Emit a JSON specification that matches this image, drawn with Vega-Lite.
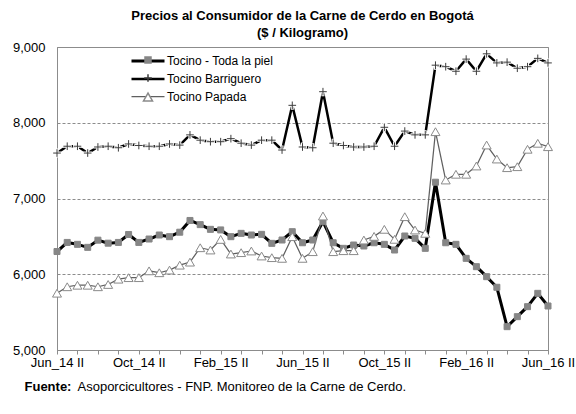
{
"$schema": "https://vega.github.io/schema/vega-lite/v6.json",
"width": 491, "height": 303,
"autosize": {"type": "none"},
"padding": {"left": 57, "top": 47, "right": 28, "bottom": 64},
"background": "white",
"title": {"text": ["Precios al Consumidor de la Carne de Cerdo en Bogotá", "($ / Kilogramo)"], "fontSize": 13, "fontWeight": "bold", "color": "black", "anchor": "middle", "offset": -12, "lineHeight": 17, "baseline": "bottom"},
"data": {"values": [
{"p":"Jun_14 II","s":"Tocino - Toda la piel","v":6300},{"p":"Jul_14 I","s":"Tocino - Toda la piel","v":6420},{"p":"Jul_14 II","s":"Tocino - Toda la piel","v":6395},{"p":"Ago_14 I","s":"Tocino - Toda la piel","v":6355},{"p":"Ago_14 II","s":"Tocino - Toda la piel","v":6450},{"p":"Sep_14 I","s":"Tocino - Toda la piel","v":6410},{"p":"Sep_14 II","s":"Tocino - Toda la piel","v":6420},{"p":"Oct_14 I","s":"Tocino - Toda la piel","v":6525},{"p":"Oct_14 II","s":"Tocino - Toda la piel","v":6420},{"p":"Nov_14 I","s":"Tocino - Toda la piel","v":6465},{"p":"Nov_14 II","s":"Tocino - Toda la piel","v":6518},{"p":"Dic_14 I","s":"Tocino - Toda la piel","v":6496},{"p":"Dic_14 II","s":"Tocino - Toda la piel","v":6555},{"p":"Ene_15 I","s":"Tocino - Toda la piel","v":6710},{"p":"Ene_15 II","s":"Tocino - Toda la piel","v":6655},{"p":"Feb_15 I","s":"Tocino - Toda la piel","v":6593},{"p":"Feb_15 II","s":"Tocino - Toda la piel","v":6585},{"p":"Mar_15 I","s":"Tocino - Toda la piel","v":6496},{"p":"Mar_15 II","s":"Tocino - Toda la piel","v":6540},{"p":"Abr_15 I","s":"Tocino - Toda la piel","v":6518},{"p":"Abr_15 II","s":"Tocino - Toda la piel","v":6527},{"p":"May_15 I","s":"Tocino - Toda la piel","v":6408},{"p":"May_15 II","s":"Tocino - Toda la piel","v":6452},{"p":"Jun_15 I","s":"Tocino - Toda la piel","v":6562},{"p":"Jun_15 II","s":"Tocino - Toda la piel","v":6416},{"p":"Jul_15 I","s":"Tocino - Toda la piel","v":6452},{"p":"Jul_15 II","s":"Tocino - Toda la piel","v":6694},{"p":"Ago_15 I","s":"Tocino - Toda la piel","v":6416},{"p":"Ago_15 II","s":"Tocino - Toda la piel","v":6342},{"p":"Sep_15 I","s":"Tocino - Toda la piel","v":6386},{"p":"Sep_15 II","s":"Tocino - Toda la piel","v":6373},{"p":"Oct_15 I","s":"Tocino - Toda la piel","v":6416},{"p":"Oct_15 II","s":"Tocino - Toda la piel","v":6395},{"p":"Nov_15 I","s":"Tocino - Toda la piel","v":6320},{"p":"Nov_15 II","s":"Tocino - Toda la piel","v":6505},{"p":"Dic_15 I","s":"Tocino - Toda la piel","v":6474},{"p":"Dic_15 II","s":"Tocino - Toda la piel","v":6342},{"p":"Ene_16 I","s":"Tocino - Toda la piel","v":7215},{"p":"Ene_16 II","s":"Tocino - Toda la piel","v":6416},{"p":"Feb_16 I","s":"Tocino - Toda la piel","v":6395},{"p":"Feb_16 II","s":"Tocino - Toda la piel","v":6210},{"p":"Mar_16 I","s":"Tocino - Toda la piel","v":6100},{"p":"Mar_16 II","s":"Tocino - Toda la piel","v":5968},{"p":"Abr_16 I","s":"Tocino - Toda la piel","v":5828},{"p":"Abr_16 II","s":"Tocino - Toda la piel","v":5308},{"p":"May_16 I","s":"Tocino - Toda la piel","v":5440},{"p":"May_16 II","s":"Tocino - Toda la piel","v":5572},{"p":"Jun_16 I","s":"Tocino - Toda la piel","v":5748},{"p":"Jun_16 II","s":"Tocino - Toda la piel","v":5581},
{"p":"Jun_14 II","s":"Tocino Barriguero","v":7600},{"p":"Jul_14 I","s":"Tocino Barriguero","v":7690},{"p":"Jul_14 II","s":"Tocino Barriguero","v":7690},{"p":"Ago_14 I","s":"Tocino Barriguero","v":7600},{"p":"Ago_14 II","s":"Tocino Barriguero","v":7680},{"p":"Sep_14 I","s":"Tocino Barriguero","v":7690},{"p":"Sep_14 II","s":"Tocino Barriguero","v":7670},{"p":"Oct_14 I","s":"Tocino Barriguero","v":7720},{"p":"Oct_14 II","s":"Tocino Barriguero","v":7700},{"p":"Nov_14 I","s":"Tocino Barriguero","v":7690},{"p":"Nov_14 II","s":"Tocino Barriguero","v":7690},{"p":"Dic_14 I","s":"Tocino Barriguero","v":7720},{"p":"Dic_14 II","s":"Tocino Barriguero","v":7705},{"p":"Ene_15 I","s":"Tocino Barriguero","v":7840},{"p":"Ene_15 II","s":"Tocino Barriguero","v":7770},{"p":"Feb_15 I","s":"Tocino Barriguero","v":7750},{"p":"Feb_15 II","s":"Tocino Barriguero","v":7750},{"p":"Mar_15 I","s":"Tocino Barriguero","v":7790},{"p":"Mar_15 II","s":"Tocino Barriguero","v":7730},{"p":"Abr_15 I","s":"Tocino Barriguero","v":7705},{"p":"Abr_15 II","s":"Tocino Barriguero","v":7770},{"p":"May_15 I","s":"Tocino Barriguero","v":7770},{"p":"May_15 II","s":"Tocino Barriguero","v":7640},{"p":"Jun_15 I","s":"Tocino Barriguero","v":8230},{"p":"Jun_15 II","s":"Tocino Barriguero","v":7680},{"p":"Jul_15 I","s":"Tocino Barriguero","v":7670},{"p":"Jul_15 II","s":"Tocino Barriguero","v":8410},{"p":"Ago_15 I","s":"Tocino Barriguero","v":7730},{"p":"Ago_15 II","s":"Tocino Barriguero","v":7700},{"p":"Sep_15 I","s":"Tocino Barriguero","v":7680},{"p":"Sep_15 II","s":"Tocino Barriguero","v":7680},{"p":"Oct_15 I","s":"Tocino Barriguero","v":7690},{"p":"Oct_15 II","s":"Tocino Barriguero","v":7940},{"p":"Nov_15 I","s":"Tocino Barriguero","v":7690},{"p":"Nov_15 II","s":"Tocino Barriguero","v":7890},{"p":"Dic_15 I","s":"Tocino Barriguero","v":7840},{"p":"Dic_15 II","s":"Tocino Barriguero","v":7840},{"p":"Ene_16 I","s":"Tocino Barriguero","v":8760},{"p":"Ene_16 II","s":"Tocino Barriguero","v":8740},{"p":"Feb_16 I","s":"Tocino Barriguero","v":8680},{"p":"Feb_16 II","s":"Tocino Barriguero","v":8840},{"p":"Mar_16 I","s":"Tocino Barriguero","v":8680},{"p":"Mar_16 II","s":"Tocino Barriguero","v":8910},{"p":"Abr_16 I","s":"Tocino Barriguero","v":8790},{"p":"Abr_16 II","s":"Tocino Barriguero","v":8800},{"p":"May_16 I","s":"Tocino Barriguero","v":8720},{"p":"May_16 II","s":"Tocino Barriguero","v":8740},{"p":"Jun_16 I","s":"Tocino Barriguero","v":8850},{"p":"Jun_16 II","s":"Tocino Barriguero","v":8790},
{"p":"Jun_14 II","s":"Tocino Papada","v":5750},{"p":"Jul_14 I","s":"Tocino Papada","v":5835},{"p":"Jul_14 II","s":"Tocino Papada","v":5855},{"p":"Ago_14 I","s":"Tocino Papada","v":5855},{"p":"Ago_14 II","s":"Tocino Papada","v":5835},{"p":"Sep_14 I","s":"Tocino Papada","v":5865},{"p":"Sep_14 II","s":"Tocino Papada","v":5935},{"p":"Oct_14 I","s":"Tocino Papada","v":5955},{"p":"Oct_14 II","s":"Tocino Papada","v":5955},{"p":"Nov_14 I","s":"Tocino Papada","v":6045},{"p":"Nov_14 II","s":"Tocino Papada","v":6020},{"p":"Dic_14 I","s":"Tocino Papada","v":6055},{"p":"Dic_14 II","s":"Tocino Papada","v":6120},{"p":"Ene_15 I","s":"Tocino Papada","v":6160},{"p":"Ene_15 II","s":"Tocino Papada","v":6350},{"p":"Feb_15 I","s":"Tocino Papada","v":6320},{"p":"Feb_15 II","s":"Tocino Papada","v":6460},{"p":"Mar_15 I","s":"Tocino Papada","v":6267},{"p":"Mar_15 II","s":"Tocino Papada","v":6285},{"p":"Abr_15 I","s":"Tocino Papada","v":6307},{"p":"Abr_15 II","s":"Tocino Papada","v":6241},{"p":"May_15 I","s":"Tocino Papada","v":6219},{"p":"May_15 II","s":"Tocino Papada","v":6210},{"p":"Jun_15 I","s":"Tocino Papada","v":6496},{"p":"Jun_15 II","s":"Tocino Papada","v":6210},{"p":"Jul_15 I","s":"Tocino Papada","v":6298},{"p":"Jul_15 II","s":"Tocino Papada","v":6769},{"p":"Ago_15 I","s":"Tocino Papada","v":6298},{"p":"Ago_15 II","s":"Tocino Papada","v":6311},{"p":"Sep_15 I","s":"Tocino Papada","v":6311},{"p":"Sep_15 II","s":"Tocino Papada","v":6452},{"p":"Oct_15 I","s":"Tocino Papada","v":6500},{"p":"Oct_15 II","s":"Tocino Papada","v":6593},{"p":"Nov_15 I","s":"Tocino Papada","v":6461},{"p":"Nov_15 II","s":"Tocino Papada","v":6760},{"p":"Dic_15 I","s":"Tocino Papada","v":6584},{"p":"Dic_15 II","s":"Tocino Papada","v":6540},{"p":"Ene_16 I","s":"Tocino Papada","v":7882},{"p":"Ene_16 II","s":"Tocino Papada","v":7244},{"p":"Feb_16 I","s":"Tocino Papada","v":7320},{"p":"Feb_16 II","s":"Tocino Papada","v":7320},{"p":"Mar_16 I","s":"Tocino Papada","v":7429},{"p":"Mar_16 II","s":"Tocino Papada","v":7706},{"p":"Abr_16 I","s":"Tocino Papada","v":7521},{"p":"Abr_16 II","s":"Tocino Papada","v":7407},{"p":"May_16 I","s":"Tocino Papada","v":7420},{"p":"May_16 II","s":"Tocino Papada","v":7650},{"p":"Jun_16 I","s":"Tocino Papada","v":7729},{"p":"Jun_16 II","s":"Tocino Papada","v":7684}
]},
"encoding": {
  "x": {"field": "p", "type": "ordinal",
    "scale": {"type": "point", "padding": 0, "domain": ["Jun_14 II","Jul_14 I","Jul_14 II","Ago_14 I","Ago_14 II","Sep_14 I","Sep_14 II","Oct_14 I","Oct_14 II","Nov_14 I","Nov_14 II","Dic_14 I","Dic_14 II","Ene_15 I","Ene_15 II","Feb_15 I","Feb_15 II","Mar_15 I","Mar_15 II","Abr_15 I","Abr_15 II","May_15 I","May_15 II","Jun_15 I","Jun_15 II","Jul_15 I","Jul_15 II","Ago_15 I","Ago_15 II","Sep_15 I","Sep_15 II","Oct_15 I","Oct_15 II","Nov_15 I","Nov_15 II","Dic_15 I","Dic_15 II","Ene_16 I","Ene_16 II","Feb_16 I","Feb_16 II","Mar_16 I","Mar_16 II","Abr_16 I","Abr_16 II","May_16 I","May_16 II","Jun_16 I","Jun_16 II"]},
    "axis": {"values": ["Jun_14 II","Jul_14 II","Ago_14 II","Sep_14 II","Oct_14 II","Nov_14 II","Dic_14 II","Ene_15 II","Feb_15 II","Mar_15 II","Abr_15 II","May_15 II","Jun_15 II","Jul_15 II","Ago_15 II","Sep_15 II","Oct_15 II","Nov_15 II","Dic_15 II","Ene_16 II","Feb_16 II","Mar_16 II","Abr_16 II","May_16 II","Jun_16 II"],
      "labelExpr": "indexof(['Jun_14 II','Oct_14 II','Feb_15 II','Jun_15 II','Oct_15 II','Feb_16 II','Jun_16 II'], datum.value) >= 0 ? datum.value : ''",
      "labelAngle": 0, "labelOverlap": false, "labelFontSize": 13, "labelColor": "black", "labelPadding": 2, "labelFlush": false,
      "tickSize": 4, "tickColor": "#8c8c8c", "domainColor": "#8c8c8c", "grid": false,
      "title": "Asoporcicultores - FNP. Monitoreo de la Carne de Cerdo.", "titleX": 20, "titleY": 40, "titleAlign": "left", "titleAnchor": "start", "titleBaseline": "alphabetic", "titleFontSize": 13, "titleFontWeight": "normal", "titleColor": "black"}},
  "y": {"field": "v", "type": "quantitative",
    "scale": {"domain": [5000, 9000], "nice": false, "zero": false},
    "axis": {"values": [5000, 6000, 7000, 8000, 9000], "format": ",d", "grid": true, "gridDash": [3, 2], "gridColor": "#8c8c8c",
      "ticks": false, "tickSize": 0, "labelPadding": 12, "labelFontSize": 13, "labelColor": "black", "domainColor": "#8c8c8c",
      "title": "Fuente:", "titleAngle": 0, "titleX": -33, "titleY": 343, "titleAlign": "left", "titleBaseline": "alphabetic", "titleFontSize": 13, "titleFontWeight": "bold", "titleColor": "black"}}
},
"layer": [
  {"mark": {"type": "line", "strokeJoin": "round"},
   "encoding": {
     "color": {"field": "s", "type": "nominal", "scale": {"range": ["#000000", "#000000", "#606060"]},
       "legend": {"orient": "none", "legendX": 84, "legendY": 7, "title": null, "symbolType": "M-3,0H3", "symbolSize": 121, "labelFontSize": 12, "labelColor": "black", "labelOffset": 12, "rowPadding": 5, "padding": 0}},
     "strokeWidth": {"field": "s", "type": "nominal", "scale": {"type": "ordinal", "range": [3, 2.5, 1.25]}, "legend": {"orient": "none", "legendX": 84, "legendY": 7, "title": null}},
     "order": {"value": null}}},
  {"transform": [{"filter": "datum.s == 'Tocino Barriguero'"}],
   "mark": {"type": "point", "shape": "M-1,0H1M0,-1V1", "stroke": "white", "strokeWidth": 3, "size": 81, "opacity": 1, "filled": false}},
  {"mark": {"type": "point", "opacity": 1, "strokeWidth": 1},
   "encoding": {
     "shape": {"field": "s", "type": "nominal", "scale": {"domain": ["Tocino - Toda la piel", "Tocino Barriguero", "Tocino Papada"], "range": ["square", "M-1,0H1M0,-1V1", "triangle-up"]},
       "legend": {"orient": "none", "legendX": 85, "legendY": 7, "title": null, "labelFontSize": 12, "labelExpr": "''", "rowPadding": 5, "padding": 0}},
     "fill": {"field": "s", "type": "nominal", "scale": {"domain": ["Tocino - Toda la piel", "Tocino Barriguero", "Tocino Papada"], "range": ["#868686", "#ffffff", "#ffffff"]}, "legend": {}},
     "stroke": {"field": "s", "type": "nominal", "scale": {"domain": ["Tocino - Toda la piel", "Tocino Barriguero", "Tocino Papada"], "range": ["#868686", "#3c3c3c", "#8a8a8a"]}, "legend": {}},
     "size": {"field": "s", "type": "nominal", "scale": {"domain": ["Tocino - Toda la piel", "Tocino Barriguero", "Tocino Papada"], "range": [36, 81, 70]}, "legend": {}}}}
],
"config": {"font": "Liberation Sans", "view": {"stroke": "#8c8c8c", "strokeWidth": 1}}
}
